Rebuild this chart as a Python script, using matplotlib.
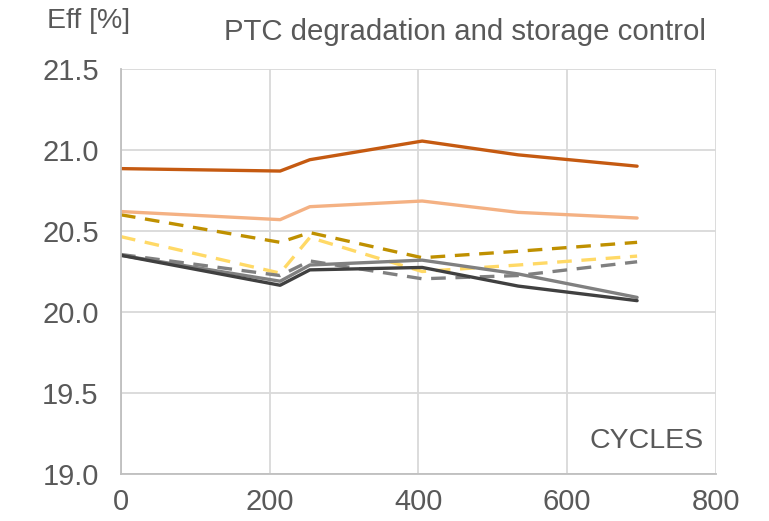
import matplotlib.pyplot as plt

plt.rcParams['font.family'] = ['Liberation Sans', 'DejaVu Sans']

# Ciclos y eficiencias de cada serie
ciclos = [0, 214, 254, 405, 534, 694]

naranja_oscuro = [20.885, 20.87, 20.94, 21.055, 20.97, 20.90]
naranja_claro = [20.62, 20.57, 20.65, 20.685, 20.615, 20.58]
dorado_guiones = [20.60, 20.43, 20.49, 20.335, 20.375, 20.43]
amarillo_guiones = [20.465, 20.24, 20.46, 20.25, 20.29, 20.345]
gris_guiones = [20.355, 20.225, 20.315, 20.205, 20.225, 20.31]
gris = [20.35, 20.19, 20.29, 20.32, 20.235, 20.09]
negro = [20.35, 20.165, 20.26, 20.275, 20.16, 20.07]

series = [
    (amarillo_guiones, "#FFD966", "--"),
    (dorado_guiones, "#BF9000", "--"),
    (gris_guiones, "#808080", "--"),
    (naranja_claro, "#F4B183", "-"),
    (naranja_oscuro, "#C55A11", "-"),
    (gris, "#808080", "-"),
    (negro, "#404040", "-"),
]

fig = plt.figure(figsize=(7.69, 5.21), dpi=100)
grafica = fig.add_axes([0.1573, 0.0902, 0.7737, 0.7774])

for valores, color, estilo in series:
    linea, = grafica.plot(ciclos, valores, color=color, lw=2.4, ls=estilo,
                          solid_capstyle="round", solid_joinstyle="round")
    if estilo == "--":
        linea.set_dashes((4.4, 2.9))

grafica.set_xlim(0, 800)
grafica.set_ylim(19.0, 21.5)
grafica.set_xticks(range(0, 801, 200))
grafica.set_yticks([19.0, 19.5, 20.0, 20.5, 21.0, 21.5])
grafica.set_yticklabels(["19.0", "19.5", "20.0", "20.5", "21.0", "21.5"])

grafica.grid(True, color="#D9D9D9", lw=1.3)
grafica.set_axisbelow(True)
for lado in ["top", "right"]:
    grafica.spines[lado].set_visible(False)
grafica.spines["left"].set_color("#BFBFBF")
grafica.spines["bottom"].set_color("#BFBFBF")
grafica.spines["left"].set_linewidth(1.3)
grafica.spines["bottom"].set_linewidth(1.3)

grafica.tick_params(axis="both", length=0, labelsize=21, colors="#595959")
grafica.tick_params(axis="y", pad=16)
grafica.tick_params(axis="x", pad=10)

fig.text(0.061, 0.985, "Eff [%]", fontsize=20.5, color="#595959", va="top", ha="left")
fig.text(0.918, 0.965, "PTC degradation and storage control", fontsize=21.2,
         color="#595959", va="top", ha="right")
grafica.text(0.98, 0.05, "CYCLES", transform=grafica.transAxes, fontsize=20.5,
             color="#595959", ha="right", va="bottom")

fig.savefig("out.png", dpi=100)
